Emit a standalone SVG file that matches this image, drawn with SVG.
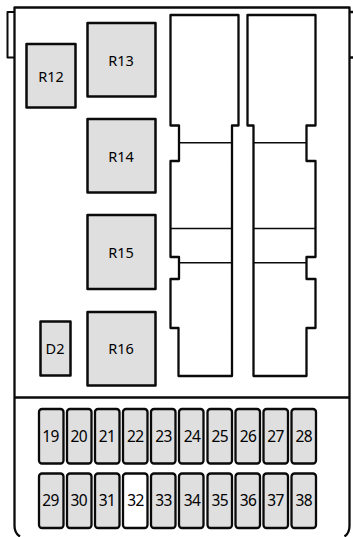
<svg xmlns="http://www.w3.org/2000/svg" width="353" height="537" viewBox="0 0 353 537">
<style>
.o{fill:none;stroke:#0a0a0a;stroke-width:2.300;stroke-linejoin:round}
.w{fill:#fff;stroke:#0a0a0a;stroke-width:2.300;stroke-linejoin:round}
.t{fill:#fff;stroke:#0a0a0a;stroke-width:2;stroke-linejoin:round}
.b{fill:#dfdfdf;stroke:#0a0a0a;stroke-width:2.500;stroke-linejoin:round}
.f{fill:#dfdfdf;stroke:#0a0a0a;stroke-width:2.300}
.p{fill:#fff;stroke:#0a0a0a;stroke-width:2.300}
.l{fill:none;stroke:#0a0a0a;stroke-width:1.600}
text{font-family:"Noto Sans","Open Sans",sans-serif;font-size:14.500px;fill:#000;text-anchor:middle}
.n{font-size:15.500px;letter-spacing:-0.600px}
</style>
<g id="housing">
<path class="t" d="M14.500 12H7.500V57.500H14.500"/>
<path class="o" d="M349 12H354M349 57.500H354"/>
<path class="o" d="M20 536.500Q14.500 533 14.500 526V7.500H349.500V526Q349.500 533 344.500 536.500"/>
<path class="o" d="M14.500 397.500H349.500"/>
</g>
<g id="R12"><rect class="b" x="26.500" y="44" width="49" height="63.500"/><text x="51" y="81.500">R12</text></g>
<g id="R13"><rect class="b" x="87.500" y="23" width="68" height="73.500"/><text x="121" y="65.500">R13</text></g>
<g id="R14"><rect class="b" x="87.500" y="119" width="68" height="73.500"/><text x="121" y="161.500">R14</text></g>
<g id="R15"><rect class="b" x="87.500" y="215" width="68" height="74"/><text x="121" y="257.500">R15</text></g>
<g id="R16"><rect class="b" x="87.500" y="312" width="68" height="73.500"/><text x="121" y="353.500">R16</text></g>
<g id="D2"><rect class="b" x="40.500" y="321.500" width="30" height="54"/><text x="55" y="353.500">D2</text></g>
<g id="block-left">
<path class="w" d="M170.500 15H238.500V125.500H232V376H178.500V328H170.500V279H179V257H170.500V161H179V125.500H170.500Z"/>
<path class="l" d="M179 142.750H232M170.500 228.500H232M179 262.750H232"/>
</g>
<g id="block-right">
<path class="w" d="M247.500 15H315.500V125.500H306.500V161H315.500V257H306.500V279H315.500V328H306.500V376H253.500V125.500H247.500Z"/>
<path class="l" d="M253.500 142.750H306.500M253.500 228.500H315.500M253.500 262.750H306.500"/>
</g>
<g id="F19"><rect class="f" x="39" y="409" width="24.500" height="54.500" rx="3"/><text class="n" x="50.600" y="442">19</text></g>
<g id="F20"><rect class="f" x="67" y="409" width="24.500" height="54.500" rx="3"/><text class="n" x="78.800" y="442">20</text></g>
<g id="F21"><rect class="f" x="95" y="409" width="24.500" height="54.500" rx="3"/><text class="n" x="107" y="442">21</text></g>
<g id="F22"><rect class="f" x="123" y="409" width="24.500" height="54.500" rx="3"/><text class="n" x="135.200" y="442">22</text></g>
<g id="F23"><rect class="f" x="151" y="409" width="24.500" height="54.500" rx="3"/><text class="n" x="163.500" y="442">23</text></g>
<g id="F24"><rect class="f" x="179" y="409" width="24.500" height="54.500" rx="3"/><text class="n" x="192" y="442">24</text></g>
<g id="F25"><rect class="f" x="207.500" y="409" width="24.500" height="54.500" rx="3"/><text class="n" x="219.700" y="442">25</text></g>
<g id="F26"><rect class="f" x="235.500" y="409" width="24.500" height="54.500" rx="3"/><text class="n" x="248" y="442">26</text></g>
<g id="F27"><rect class="f" x="263.500" y="409" width="24.500" height="54.500" rx="3"/><text class="n" x="275.500" y="442">27</text></g>
<g id="F28"><rect class="f" x="291.500" y="409" width="24.500" height="54.500" rx="3"/><text class="n" x="303.700" y="442">28</text></g>
<g id="F29"><rect class="f" x="39" y="473.500" width="24.500" height="54.500" rx="3"/><text class="n" x="50.600" y="506">29</text></g>
<g id="F30"><rect class="f" x="67" y="473.500" width="24.500" height="54.500" rx="3"/><text class="n" x="78.800" y="506">30</text></g>
<g id="F31"><rect class="f" x="95" y="473.500" width="24.500" height="54.500" rx="3"/><text class="n" x="107" y="506">31</text></g>
<g id="F32"><rect class="p" x="123" y="473.500" width="24.500" height="54.500" rx="3"/><text class="n" x="135.500" y="506">32</text></g>
<g id="F33"><rect class="f" x="151" y="473.500" width="24.500" height="54.500" rx="3"/><text class="n" x="163.500" y="506">33</text></g>
<g id="F34"><rect class="f" x="179" y="473.500" width="24.500" height="54.500" rx="3"/><text class="n" x="192" y="506">34</text></g>
<g id="F35"><rect class="f" x="207.500" y="473.500" width="24.500" height="54.500" rx="3"/><text class="n" x="219.700" y="506">35</text></g>
<g id="F36"><rect class="f" x="235.500" y="473.500" width="24.500" height="54.500" rx="3"/><text class="n" x="248" y="506">36</text></g>
<g id="F37"><rect class="f" x="263.500" y="473.500" width="24.500" height="54.500" rx="3"/><text class="n" x="275.500" y="506">37</text></g>
<g id="F38"><rect class="f" x="291.500" y="473.500" width="24.500" height="54.500" rx="3"/><text class="n" x="303.700" y="506">38</text></g>
<g id="connectors"></g>
</svg>
